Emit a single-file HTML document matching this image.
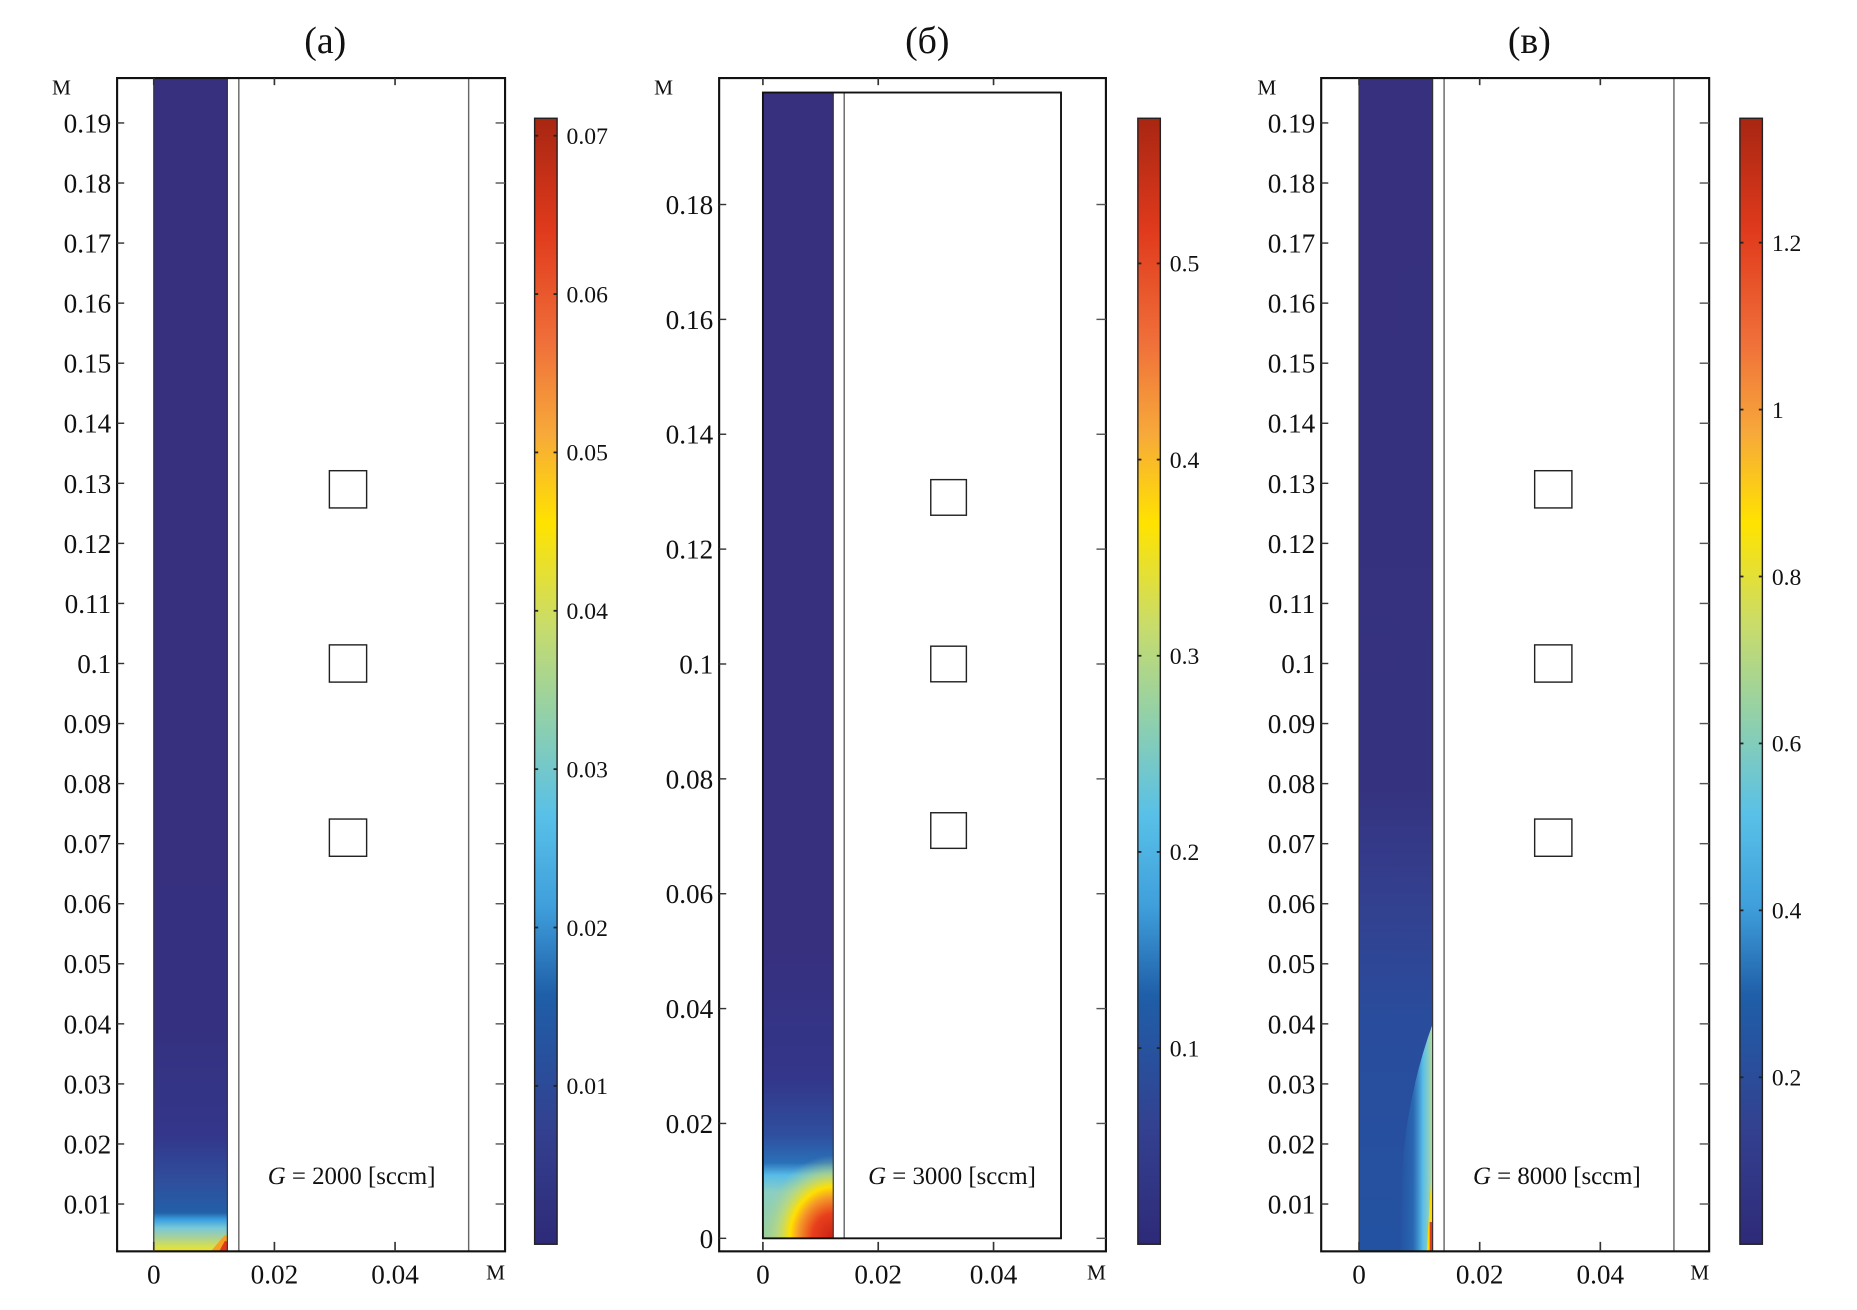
<!DOCTYPE html>
<html><head><meta charset="utf-8">
<style>
html,body{margin:0;padding:0;background:#fff;}
svg{display:block;}
text{font-family:"Liberation Serif",serif;fill:#111;}
</style></head>
<body>
<svg id="fig" width="1857" height="1310" viewBox="0 0 1570 1107.6" preserveAspectRatio="none" xmlns="http://www.w3.org/2000/svg">
<defs>
<linearGradient id="cmap" x1="0" y1="1" x2="0" y2="0">
<stop offset="0" stop-color="#2e2a78"/>
<stop offset="0.1" stop-color="#33408f"/>
<stop offset="0.22" stop-color="#1f5ea8"/>
<stop offset="0.3" stop-color="#3f9fdb"/>
<stop offset="0.38" stop-color="#58c0e8"/>
<stop offset="0.46" stop-color="#8ccfb0"/>
<stop offset="0.55" stop-color="#c9dc6a"/>
<stop offset="0.64" stop-color="#ffe300"/>
<stop offset="0.72" stop-color="#f7a93a"/>
<stop offset="0.8" stop-color="#f0703a"/>
<stop offset="0.9" stop-color="#e03a1c"/>
<stop offset="1" stop-color="#a82612"/>
</linearGradient>
<linearGradient id="fa" x1="0" y1="1" x2="0" y2="0">
<stop offset="0" stop-color="#f3e020"/>
<stop offset="0.004" stop-color="#d6e050"/>
<stop offset="0.012" stop-color="#a8d09a"/>
<stop offset="0.02" stop-color="#78c8d8"/>
<stop offset="0.027" stop-color="#3aa0e0"/>
<stop offset="0.033" stop-color="#2260a8"/>
<stop offset="0.06" stop-color="#2f4e9c"/>
<stop offset="0.1" stop-color="#33368a"/>
<stop offset="0.2" stop-color="#35307f"/>
<stop offset="1" stop-color="#37307f"/>
</linearGradient>
<linearGradient id="fb" x1="0" y1="1" x2="0" y2="0">
<stop offset="0" stop-color="#9ccf98"/>
<stop offset="0.04" stop-color="#8ccfc0"/>
<stop offset="0.055" stop-color="#58bce8"/>
<stop offset="0.066" stop-color="#2a70b8"/>
<stop offset="0.09" stop-color="#2f4f9e"/>
<stop offset="0.14" stop-color="#33368a"/>
<stop offset="0.25" stop-color="#37307f"/>
<stop offset="1" stop-color="#37307f"/>
</linearGradient>
<radialGradient id="rb" cx="1" cy="1" r="1">
<stop offset="0" stop-color="#c82014"/>
<stop offset="0.3" stop-color="#e8401c"/>
<stop offset="0.5" stop-color="#f59a28"/>
<stop offset="0.62" stop-color="#ffe000"/>
<stop offset="0.8" stop-color="#c8dc70" stop-opacity="0.6"/>
<stop offset="1" stop-color="#a0d0a0" stop-opacity="0"/>
</radialGradient>
<linearGradient id="fc" x1="0" y1="1" x2="0" y2="0">
<stop offset="0" stop-color="#2452a2"/>
<stop offset="0.2" stop-color="#2a4c9c"/>
<stop offset="0.3" stop-color="#33408f"/>
<stop offset="0.4" stop-color="#35327f"/>
<stop offset="1" stop-color="#37307f"/>
</linearGradient>
<linearGradient id="fcs" x1="0" y1="0" x2="1" y2="0">
<stop offset="0" stop-color="#2a70b8" stop-opacity="0"/>
<stop offset="0.4" stop-color="#2a70b8" stop-opacity="0.7"/>
<stop offset="0.7" stop-color="#58bce8"/>
<stop offset="0.9" stop-color="#90d0c0"/>
<stop offset="1" stop-color="#c0dc80"/>
</linearGradient>
</defs>
</svg>
<script>
// ---- data ----
const panelTitles = ["(a)", "(б)", "(в)"];
const flowRates = [2000, 3000, 8000];
const yTicksA = [0.01,0.02,0.03,0.04,0.05,0.06,0.07,0.08,0.09,0.1,0.11,0.12,0.13,0.14,0.15,0.16,0.17,0.18,0.19];
const yLabelsA = ["0.01","0.02","0.03","0.04","0.05","0.06","0.07","0.08","0.09","0.1","0.11","0.12","0.13","0.14","0.15","0.16","0.17","0.18","0.19"];
const yTicksB = [0,0.02,0.04,0.06,0.08,0.1,0.12,0.14,0.16,0.18];
const yLabelsB = ["0","0.02","0.04","0.06","0.08","0.1","0.12","0.14","0.16","0.18"];
const xTicks = [0,0.02,0.04];
const xLabels = ["0","0.02","0.04"];
const cbTicksA = [0.01,0.02,0.03,0.04,0.05,0.06,0.07];
const cbLabelsA = ["0.01","0.02","0.03","0.04","0.05","0.06","0.07"];
const cbRangeA = [0, 0.0711];
const cbTicksB = [0.1,0.2,0.3,0.4,0.5];
const cbLabelsB = ["0.1","0.2","0.3","0.4","0.5"];
const cbRangeB = [0, 0.574];
const cbTicksC = [0.2,0.4,0.6,0.8,1,1.2];
const cbLabelsC = ["0.2","0.4","0.6","0.8","1","1.2"];
const cbRangeC = [0, 1.349];
const squareY = [0.129, 0.1, 0.071];
const squareX = 0.0322;
const squareSize = 0.0062;
const channelWidth = 0.0122;
const wallX = [0.0141, 0.0522];

const NS = "http://www.w3.org/2000/svg";
const svg = document.getElementById("fig");
function el(tag, attrs, parent, txt){
  const e = document.createElementNS(NS, tag);
  for (const k in attrs) e.setAttribute(k, attrs[k]);
  if (txt !== undefined) e.textContent = txt;
  (parent || svg).appendChild(e);
  return e;
}

const panels = [
  {fx0:99, fx1:427, x0px:130, xs:5100, y0px:1018, y0v:0.01, ys:5078, yT:yTicksA, yL:yLabelsA, cbx:452, cbT:cbTicksA, cbL:cbLabelsA, cbR:cbRangeA, fill:"a", box:false, mx:52, tx:275},
  {fx0:608, fx1:935, x0px:645, xs:4875, y0px:1047, y0v:0, ys:4856, yT:yTicksB, yL:yLabelsB, cbx:962, cbT:cbTicksB, cbL:cbLabelsB, cbR:cbRangeB, fill:"b", box:true, mx:561, tx:784},
  {fx0:1117, fx1:1445, x0px:1149, xs:5100, y0px:1018, y0v:0.01, ys:5078, yT:yTicksA, yL:yLabelsA, cbx:1471, cbT:cbTicksC, cbL:cbLabelsC, cbR:cbRangeC, fill:"c", box:false, mx:1071, tx:1293}
];
const FT = 66, FB = 1058, CBT = 100, CBB = 1052;

panels.forEach((p, i) => {
  const g = el("g", {});
  
  
  const X = v => p.x0px + v * p.xs;
  const Y = v => p.y0px - (v - p.y0v) * p.ys;

  const t = el("text", {x:p.tx, y:45, "font-size":32, "text-anchor":"middle"}, g, panelTitles[i]);
  
  

  const top = p.box ? Y(0.1995) : FT;
  const bot = p.box ? Y(0) : FB;
  const cx0 = X(0), cx1 = X(channelWidth);
  const ch = el("rect", {x:cx0, y:top, width:cx1-cx0, height:bot-top, fill:"url(#f"+p.fill+")"}, g);
  
  
  if (p.fill === "a") {
    el("polygon", {points:(cx1-14)+","+bot+" "+(cx1-2)+","+(bot-14)+" "+cx1+","+(bot-12)+" "+cx1+","+bot, fill:"#f5a020"}, g);
    el("polygon", {points:(cx1-7)+","+bot+" "+(cx1-2)+","+(bot-9)+" "+cx1+","+(bot-8)+" "+cx1+","+bot, fill:"#e03818"}, g);
  } else if (p.fill === "b") {
    el("rect", {x:cx0, y:bot-70, width:cx1-cx0, height:70, fill:"url(#rb)"}, g);
  } else {
    el("path", {d:"M"+cx1+","+Y(0.04)+" Q"+(cx1-22)+","+Y(0.028)+" "+(cx1-26)+","+Y(0.015)+" L"+(cx1-28)+","+FB+" L"+cx1+","+FB+" Z", fill:"url(#fcs)"}, g);
    el("path", {d:"M"+cx1+","+Y(0.018)+" L"+(cx1-5)+","+FB+" L"+cx1+","+FB+" Z", fill:"#ffd800"}, g);
    el("rect", {x:cx1-2.5, y:Y(0.007), width:2.5, height:FB-Y(0.007), fill:"#e03a1c"}, g);
  }
  el("line", {x1:cx0, y1:top, x2:cx0, y2:bot, stroke:"#333", "stroke-width":1}, g);
  el("line", {x1:cx1, y1:top, x2:cx1, y2:bot, stroke:"#333", "stroke-width":1}, g);
  wallX.forEach((w, k) => {
    if (p.box && k === 1) return;
    el("line", {x1:X(w), y1:top, x2:X(w), y2:bot, stroke:"#666", "stroke-width":1.2}, g);
  });
  if (p.box) {
    const bx = el("rect", {x:X(0), y:top, width:X(0.0517)-X(0), height:bot-top, fill:"none", stroke:"#111", "stroke-width":1.6}, g);
    
    
  }
  squareY.forEach(v => {
    const s = squareSize * p.ys;
    const r = el("rect", {x:X(squareX)-s/2, y:Y(v)-s/2, width:s, height:s, fill:"none", stroke:"#222", "stroke-width":1.2}, g);
    
    
  });
  const fr = el("rect", {x:p.fx0, y:FT, width:p.fx1-p.fx0, height:FB-FT, fill:"none", stroke:"#111", "stroke-width":1.8}, g);
  
  
  p.yT.forEach((v, k) => {
    const y = Y(v);
    el("line", {x1:p.fx0, y1:y, x2:p.fx0+6, y2:y, stroke:"#333", "stroke-width":1.2}, g);
    el("line", {x1:p.fx1, y1:y, x2:p.fx1-8, y2:y, stroke:"#555", "stroke-width":1.2}, g);
    const lt = el("text", {x:p.fx0-5, y:y+8, "font-size":23, "text-anchor":"end"}, g, p.yL[k]);
    
    
  });
  xTicks.forEach((v, k) => {
    const x = X(v);
    el("line", {x1:x, y1:FB, x2:x, y2:FB-8, stroke:"#333", "stroke-width":1.4}, g);
    el("line", {x1:x, y1:FT, x2:x, y2:FT+6, stroke:"#333", "stroke-width":1.4}, g);
    const lt = el("text", {x:x, y:FB+27, "font-size":23, "text-anchor":"middle"}, g, xLabels[k]);
    
    
  });
  const ym = el("text", {x:p.mx, y:80, "font-size":18, "text-anchor":"middle"}, g, "М");
  
  
  const xm = el("text", {x:p.fx1-8, y:FB+24, "font-size":18, "text-anchor":"middle"}, g, "М");
  
  
  const gl = el("text", {x:X(0.0328), y:1001, "font-size":21, "text-anchor":"middle"}, g);
  
  
  el("tspan", {"font-style":"italic"}, gl, "G");
  el("tspan", {}, gl, " = " + flowRates[i] + " [sccm]");
  const cb = el("rect", {x:p.cbx, y:CBT, width:19, height:CBB-CBT, fill:"url(#cmap)", stroke:"#222", "stroke-width":1.2}, g);
  
  
  const CY = v => CBB - (v - p.cbR[0]) / (p.cbR[1] - p.cbR[0]) * (CBB - CBT);
  p.cbT.forEach((v, k) => {
    const y = CY(v);
    el("line", {x1:p.cbx, y1:y, x2:p.cbx+3, y2:y, stroke:"#222", "stroke-width":1.5}, g);
    el("line", {x1:p.cbx+16, y1:y, x2:p.cbx+19, y2:y, stroke:"#222", "stroke-width":1.5}, g);
    const lt = el("text", {x:p.cbx+27, y:y+7, "font-size":20}, g, p.cbL[k]);
    
    
  });
});
</script>
</body></html>
